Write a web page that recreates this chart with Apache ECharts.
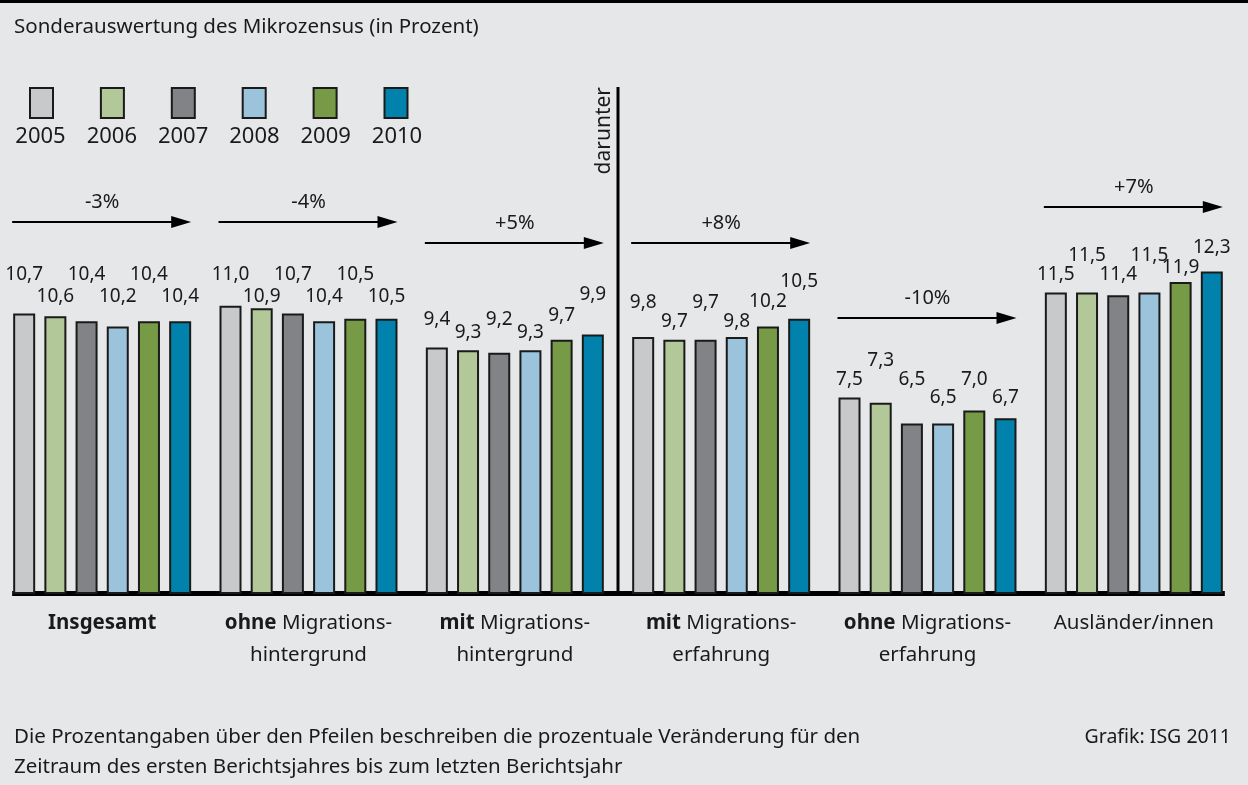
<!DOCTYPE html>
<html>
<head>
<meta charset="utf-8">
<script src="https://cdn.jsdelivr.net/npm/echarts@6/dist/echarts.min.js"></script>
<style>
html, body { margin: 0; padding: 0; background: #e6e7e9; }
#chart { width: 1248px; height: 785px; }
</style>
</head>
<body>
<div id="chart"></div>
<script>
// Sonderauswertung des Mikrozensus (in Prozent)
var years = ['2005', '2006', '2007', '2008', '2009', '2010'];
var categories = [
    'Insgesamt',
    'ohne Migrations-\nhintergrund',
    'mit Migrations-\nhintergrund',
    'mit Migrations-\nerfahrung',
    'ohne Migrations-\nerfahrung',
    'Ausländer/innen'
];
var boldWords = ['Insgesamt', 'ohne', 'mit', 'mit', 'ohne', ''];

var v2005 = [10.7, 11.0, 9.4, 9.8, 7.5, 11.5];
var v2006 = [10.6, 10.9, 9.3, 9.7, 7.3, 11.5];
var v2007 = [10.4, 10.7, 9.2, 9.7, 6.5, 11.4];
var v2008 = [10.2, 10.4, 9.3, 9.8, 6.5, 11.5];
var v2009 = [10.4, 10.5, 9.7, 10.2, 7.0, 11.9];
var v2010 = [10.4, 10.5, 9.9, 10.5, 6.7, 12.3];
var changes = ['-3%', '-4%', '+5%', '+8%', '-10%', '+7%'];

// Layout (px): Abstand Wertebeschriftung über Balkenoberkante, je Jahr
var labelLift = [
    [38.7, 30.8, 27.7, 34.2, 17.5, 17.7],
    [19.3, 11.4, 17.3, 17.9, 41.7, 36.5],
    [46.5, 38.7, 33.0, 36.9, 43.7, 20.3],
    [29.8, 24.5, 17.3, 15.2, 25.7, 36.5],
    [46.5, 43.9, 23.9, 24.8, 30.6, 14.0],
    [24.5, 21.9, 39.6, 36.9, 20.5, 24.0]
];
// Layout (px): Pfeilhöhe je Gruppe
var arrowY = [222, 222, 243, 243, 318, 207];

var colors = ['#c8c9cb', '#b3c899', '#828387', '#9bc3dc', '#769a45', '#0082ac'];
var values = [v2005, v2006, v2007, v2008, v2009, v2010];
var FONT = 'Noto Sans';
var TEXT = '#1a1a1a';

var chart = echarts.init(document.getElementById('chart'));

function fmt(v) {
    return v.toFixed(1).replace('.', ',');
}

function catLabel(value, idx) {
    var lines = value.split('\n');
    var bold = boldWords[idx];
    return lines.map(function(line, i) {
        if (i === 0 && bold && line.indexOf(bold) === 0) {
            var rest = line.slice(bold.length);
            return '{b|' + bold + '}' + (rest ? '{n|' + rest + '}' : '');
        }
        return '{n|' + line + '}';
    }).join('\n');
}

var series = years.map(function(y, s) {
    return {
        name: y,
        type: 'bar',
        barWidth: 22,
        barGap: '41.8%',
        itemStyle: {
            color: colors[s],
            borderColor: '#1a1a1a',
            borderWidth: 2
        },
        label: {
            show: true,
            color: TEXT,
            fontFamily: FONT,
            fontSize: 19,
            align: 'center',
            verticalAlign: 'middle',
            formatter: function(p) { return fmt(p.value); }
        },
        data: values[s].map(function(v, i) {
            return { value: v, label: { position: ['50%', -labelLift[s][i]] } };
        }),
        animation: false
    };
});

var option = {
    backgroundColor: '#e6e7e9',
    animation: false,
    textStyle: { fontFamily: FONT },
    grid: {
        left: -1,
        right: 11,
        top: 227,
        bottom: 191,
        outerBoundsMode: 'none'
    },
    legend: {
        left: 29,
        top: 87,
        padding: 0,
        icon: 'rect',
        itemWidth: 23,
        itemHeight: 30,
        itemGap: 45.9,
        formatter: function() { return ''; },
        selectedMode: false,
        data: years
    },
    xAxis: {
        type: 'category',
        data: categories,
        axisLine: { show: false },
        axisTick: { show: false },
        axisLabel: {
            margin: 13,
            interval: 0,
            formatter: catLabel,
            rich: {
                b: { fontFamily: FONT, fontSize: 20.5, fontWeight: 'bold', color: TEXT, lineHeight: 32 },
                n: { fontFamily: FONT, fontSize: 20.5, color: TEXT, lineHeight: 32 }
            }
        }
    },
    yAxis: {
        type: 'value',
        min: 0,
        max: 14,
        show: false,
        splitLine: { show: false }
    },
    series: series
};

chart.setOption(option);

// Zusatzgrafik: Pfeile, Trennlinie, Texte
var centers = categories.map(function(c, i) {
    return chart.convertToPixel({ xAxisIndex: 0 }, i);
});
var baseY = chart.convertToPixel({ yAxisIndex: 0 }, 0);
var graphics = [];

function font(size) {
    return size + 'px "Noto Sans"';
}

// obere Rahmenlinie
graphics.push({ type: 'rect', shape: { x: 0, y: 0, width: 1248, height: 3 }, style: { fill: '#000' } });

// Titel
graphics.push({
    type: 'text', x: 14, y: 27,
    style: { text: 'Sonderauswertung des Mikrozensus (in Prozent)', font: font(20.5), fill: TEXT, textVerticalAlign: 'middle' }
});

// Jahreszahlen unter den Legendensymbolen
years.forEach(function(y, i) {
    graphics.push({
        type: 'text', x: 40.5 + i * 71.3, y: 137,
        style: { text: y, font: font(22), fill: TEXT, textAlign: 'center', textVerticalAlign: 'middle' }
    });
});

// Grundlinie
graphics.push({
    type: 'line',
    shape: { x1: centers[0] - 90, y1: baseY - 0.5, x2: centers[5] + 91, y2: baseY - 0.5 },
    style: { stroke: '#000', lineWidth: 5 }
});

// Trennlinie "darunter"
var sepX = (centers[2] + centers[3]) / 2;
graphics.push({
    type: 'line',
    shape: { x1: sepX, y1: 87, x2: sepX, y2: baseY },
    style: { stroke: '#000', lineWidth: 3 }
});
graphics.push({
    type: 'text', x: sepX - 14, y: 87, rotation: Math.PI / 2,
    style: { text: 'darunter', font: font(21), fill: TEXT, textAlign: 'right', textVerticalAlign: 'middle' }
});

// Pfeile mit prozentualer Veränderung
changes.forEach(function(c, i) {
    var x0 = centers[i] - 90;
    var x1 = centers[i] + 89;
    var y = arrowY[i];
    graphics.push({
        type: 'line',
        shape: { x1: x0, y1: y, x2: x1 - 16, y2: y },
        style: { stroke: '#000', lineWidth: 2 }
    });
    graphics.push({
        type: 'polygon',
        shape: { points: [[x1 - 20, y - 6], [x1, y], [x1 - 20, y + 6]] },
        style: { fill: '#000' }
    });
    graphics.push({
        type: 'text', x: centers[i], y: y - 20,
        style: { text: c, font: font(20), fill: TEXT, textAlign: 'center', textVerticalAlign: 'middle' }
    });
});

// Fußnote
graphics.push({
    type: 'text', x: 14, y: 722,
    style: {
        text: 'Die Prozentangaben über den Pfeilen beschreiben die prozentuale Veränderung für den\nZeitraum des ersten Berichtsjahres bis zum letzten Berichtsjahr',
        font: font(20.5), fill: TEXT, lineHeight: 30
    }
});
graphics.push({
    type: 'text', x: 1231, y: 737,
    style: { text: 'Grafik: ISG 2011', font: font(19.5), fill: TEXT, textAlign: 'right', textVerticalAlign: 'middle' }
});

chart.setOption({ graphic: graphics });
</script>
</body>
</html>
